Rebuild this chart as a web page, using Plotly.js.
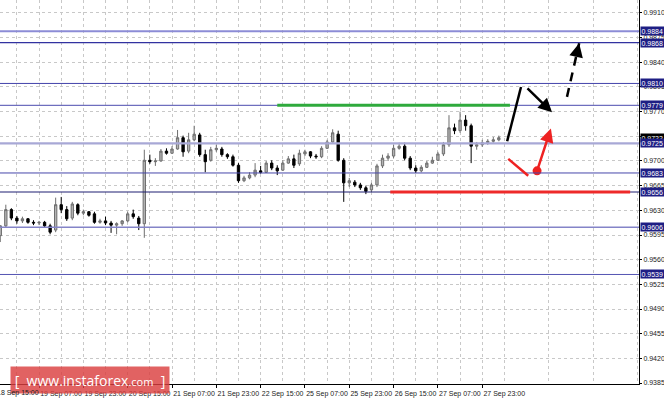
<!DOCTYPE html>
<html>
<head>
<meta charset="utf-8">
<script src="https://cdn.plot.ly/plotly-3.0.1.min.js"></script>
<style>
  html, body { margin: 0; padding: 0; background: #fff; }
  #chart { width: 664px; height: 401px; }
</style>
</head>
<body>
<div id="chart"></div>
<script>
// 2-hour candles
var opens  = [0.9594,0.9608,0.9631,0.9619,0.9615,0.9618,0.9613,0.9612,0.9613,0.9608,
              0.9602,0.9638,0.9631,0.9619,0.9638,0.9626,0.9628,0.9625,0.9613,0.9615,
              0.9612,0.9609,0.9611,0.9615,0.9625,0.9619,0.9611,0.9701,0.9699,0.9700,
              0.9714,0.9711,0.9717,0.9733,0.9714,0.9730,0.9737,0.9709,0.9701,0.9716,
              0.9717,0.9709,0.9706,0.9694,0.9672,0.9676,0.9680,0.9686,0.9684,0.9697,
              0.9690,0.9687,0.9697,0.9703,0.9696,0.9710,0.9713,0.9707,0.9706,0.9718,
              0.9727,0.9738,0.9701,0.9669,0.9670,0.9666,0.9662,0.9659,0.9666,0.9693,
              0.9704,0.9707,0.9718,0.9721,0.9704,0.9690,0.9686,0.9691,0.9697,0.9701,
              0.9710,0.9723,0.9747,0.9743,0.9758,0.9750,0.9721,0.9723,0.9726,0.9728,
              0.9730];
var highs  = [0.9609,0.9638,0.9633,0.9622,0.9621,0.9619,0.9616,0.9615,0.9615,0.9611,
              0.9648,0.9649,0.9636,0.9642,0.9640,0.9631,0.9629,0.9628,0.9618,0.9621,
              0.9615,0.9613,0.9616,0.9628,0.9631,0.9622,0.9716,0.9709,0.9704,0.9717,
              0.9718,0.9721,0.9744,0.9736,0.9740,0.9750,0.9740,0.9716,0.9720,0.9723,
              0.9720,0.9711,0.9709,0.9697,0.9679,0.9684,0.9697,0.9693,0.9700,0.9701,
              0.9694,0.9701,0.9707,0.9709,0.9716,0.9716,0.9714,0.9710,0.9721,0.9730,
              0.9745,0.9743,0.9704,0.9676,0.9673,0.9669,0.9665,0.9669,0.9696,0.9709,
              0.9711,0.9723,0.9726,0.9726,0.9707,0.9694,0.9694,0.9700,0.9706,0.9713,
              0.9727,0.9765,0.9753,0.9770,0.9765,0.9753,0.9727,0.9730,0.9731,0.9734,
              0.9736];
var lows   = [0.9585,0.9605,0.9616,0.9611,0.9612,0.9611,0.9609,0.9609,0.9605,0.9596,
              0.9599,0.9626,0.9615,0.9616,0.9623,0.9623,0.9621,0.9611,0.9611,0.9609,
              0.9598,0.9596,0.9608,0.9613,0.9618,0.9602,0.9591,0.9696,0.9693,0.9699,
              0.9709,0.9710,0.9716,0.9706,0.9711,0.9728,0.9706,0.9684,0.9699,0.9713,
              0.9706,0.9703,0.9692,0.9669,0.9670,0.9674,0.9677,0.9682,0.9683,0.9687,
              0.9680,0.9686,0.9696,0.9690,0.9693,0.9707,0.9704,0.9703,0.9704,0.9717,
              0.9726,0.9699,0.9642,0.9663,0.9663,0.9659,0.9653,0.9656,0.9663,0.9690,
              0.9700,0.9704,0.9716,0.9701,0.9687,0.9683,0.9684,0.9690,0.9696,0.9700,
              0.9707,0.9720,0.9738,0.9740,0.9743,0.9697,0.9716,0.9720,0.9723,0.9726,
              0.9728];
var closes = [0.9608,0.9631,0.9619,0.9615,0.9618,0.9613,0.9612,0.9613,0.9608,0.9599,
              0.9638,0.9631,0.9618,0.9639,0.9626,0.9628,0.9623,0.9613,0.9615,0.9612,
              0.9609,0.9611,0.9615,0.9625,0.9621,0.9611,0.9701,0.9699,0.9700,0.9714,
              0.9711,0.9717,0.9733,0.9713,0.9730,0.9738,0.9709,0.9699,0.9716,0.9718,
              0.9709,0.9706,0.9694,0.9672,0.9676,0.9680,0.9687,0.9684,0.9697,0.9690,
              0.9686,0.9697,0.9703,0.9694,0.9711,0.9713,0.9707,0.9706,0.9718,0.9727,
              0.9740,0.9701,0.9669,0.9672,0.9666,0.9662,0.9657,0.9666,0.9693,0.9704,
              0.9707,0.9718,0.9721,0.9704,0.9690,0.9686,0.9691,0.9697,0.9701,0.9710,
              0.9723,0.9747,0.9743,0.9758,0.9750,0.9721,0.9723,0.9726,0.9728,0.9730,
              0.9733];

var timeLabels = ["19 Sep 07:00", "19 Sep 23:00", "20 Sep 15:00", "21 Sep 07:00",
                  "21 Sep 23:00", "22 Sep 15:00", "25 Sep 07:00", "25 Sep 23:00",
                  "26 Sep 15:00", "27 Sep 07:00", "27 Sep 23:00"];
var timeTicks  = [7, 15, 23, 31, 39, 47, 55, 63, 71, 79, 87];
var firstLabel = "18 Sep 15:00";

var priceTicks = [0.9385, 0.9420, 0.9455, 0.9490, 0.9525, 0.9560, 0.9595, 0.9630,
                  0.9665, 0.9700, 0.9735, 0.9770, 0.9805, 0.9840, 0.9875, 0.9910];

var levels      = [0.9884, 0.9868, 0.9810, 0.9779, 0.9725, 0.9683, 0.9656, 0.9606, 0.9539];
var levelColors = ['#8c8cd6', '#3232a0', '#4242aa', '#4a4aae', '#a8a8d6', '#4646aa', '#1e1e72', '#8484c8', '#5454b2'];
var levelWidths = [2, 1.3, 1, 1, 2.2, 1, 1.2, 1.6, 1];

var lastPrice = 0.9733;

// drawn forecast marks: [x0, y0, x1, y1] in candle index / price
var resistance = [50, 0.9779, 92, 0.9779];
var support    = [70.4, 0.9656, 113.7, 0.9656];
var upLeg      = [91.5, 0.9728, 94.0, 0.9805];
var downArrow  = [94.9, 0.9805, 99.6, 0.9769];
var upDashed   = [102.3, 0.9791, 104.5, 0.9867];
var redLeg     = [91.7, 0.9703, 95.3, 0.9679];
var redArrow   = [96.9, 0.9686, 99.4, 0.9746];

var idx = opens.map(function (v, i) { return i; });

var data = [
    {
        type: 'candlestick',
        x: idx,
        open: opens,
        high: highs,
        low: lows,
        close: closes,
        increasing: { line: { color: '#6e6e6e', width: 1 }, fillcolor: '#b4b4b4' },
        decreasing: { line: { color: '#000000', width: 1 }, fillcolor: '#000000' },
        whiskerwidth: 0,
        hoverinfo: 'skip',
        showlegend: false
    },
    {
        // red dot of the alternative scenario
        type: 'scatter',
        mode: 'markers',
        x: [redArrow[0]],
        y: [redArrow[1]],
        marker: { color: '#ee2222', size: 9 },
        cliponaxis: false,
        hoverinfo: 'skip',
        showlegend: false
    }
];

var shapes = [];
levels.forEach(function (lv, i) {
    shapes.push({
        type: 'line', xref: 'paper', yref: 'y',
        x0: 0, x1: 1, y0: lv, y1: lv,
        line: { color: levelColors[i], width: levelWidths[i] }
    });
});

function seg(s, color, width, dash) {
    return {
        type: 'line', xref: 'x', yref: 'y',
        x0: s[0], y0: s[1], x1: s[2], y1: s[3],
        line: { color: color, width: width, dash: dash || 'solid' }
    };
}
shapes.push(seg(resistance, '#2eaa3c', 3));
shapes.push(seg(support, '#ee2a2a', 3));
shapes.push(seg(upLeg, '#000', 2.5));
shapes.push(seg(redLeg, '#ee2222', 2.5));
shapes.push(seg(upDashed, '#000', 2.5, '9px,7px'));

function arrow(s, color) {
    return {
        xref: 'x', yref: 'y', axref: 'x', ayref: 'y',
        x: s[2], y: s[3], ax: s[0], ay: s[1],
        text: '', showarrow: true,
        arrowhead: 2, arrowsize: 1.1, arrowwidth: 2.5, arrowcolor: color
    };
}

var annotations = [];
annotations.push(arrow(downArrow, '#000'));
annotations.push(arrow(redArrow, '#ee2222'));
// head of the dashed arrow
annotations.push(arrow([upDashed[2] - (upDashed[2] - upDashed[0]) * 0.25,
                        upDashed[3] - (upDashed[3] - upDashed[1]) * 0.25,
                        upDashed[2], upDashed[3]], '#000'));

// current price tag, then the level tags on top of it
annotations.push({
    xref: 'paper', yref: 'y', x: 1, y: lastPrice, xanchor: 'left', xshift: 1,
    text: lastPrice.toFixed(4), showarrow: false,
    font: { family: 'Liberation Sans', size: 7, color: '#fff' },
    bgcolor: '#000', borderpad: 0.5
});
levels.forEach(function (lv) {
    annotations.push({
        xref: 'paper', yref: 'y', x: 1, y: lv, xanchor: 'left', xshift: 1,
        text: lv.toFixed(4), showarrow: false,
        font: { family: 'Liberation Sans', size: 7, color: '#fff' },
        bgcolor: '#1e1e84', borderpad: 0.5
    });
});

// watermark
annotations.push({
    xref: 'paper', yref: 'paper', x: 0.1408, y: 0.0104,
    xanchor: 'center', yanchor: 'middle',
    width: 156, height: 24,
    text: "[&nbsp; www.instaforex<span style='font-size:11px'>.com</span> &nbsp;]",
    showarrow: false,
    font: { family: 'Open Sans', size: 14, color: '#fff' },
    bgcolor: 'rgba(218,64,64,0.82)'
});

// first time label, its tick sits just left of the plot so the text is cut by the edge
annotations.push({
    xref: 'paper', yref: 'paper', x: -0.0083, y: 0, xanchor: 'left', yanchor: 'top', yshift: -3,
    text: firstLabel, showarrow: false,
    font: { family: 'Liberation Sans', size: 7, color: '#222' }
});

var layout = {
    width: 664,
    height: 401,
    paper_bgcolor: '#fff',
    plot_bgcolor: '#fff',
    font: { family: 'Liberation Sans', size: 7, color: '#222' },
    showlegend: false,
    boxgap: 0.4,
    margin: { l: 0, r: 25, t: 0, b: 17 },
    xaxis: {
        range: [-0.05, 115.3],
        rangeslider: { visible: false },
        tickmode: 'array',
        tickvals: timeTicks,
        ticktext: timeLabels,
        ticks: 'outside',
        ticklen: 3,
        tickcolor: '#000',
        ticklabelshift: 22,
        showline: true,
        linecolor: '#000',
        linewidth: 1,
        showgrid: true,
        gridcolor: '#c8c8c8',
        griddash: 'dot',
        minor: { tickmode: 'linear', tick0: 3, dtick: 8, showgrid: true, gridcolor: '#c8c8c8', griddash: 'dot', ticks: '' },
        zeroline: false,
        fixedrange: true
    },
    yaxis: {
        side: 'right',
        range: [0.93836, 0.99284],
        tickmode: 'array',
        tickvals: priceTicks,
        ticktext: priceTicks.map(function (v) { return v.toFixed(4); }),
        ticks: 'outside',
        ticklen: 2,
        tickcolor: '#000',
        showline: true,
        linecolor: '#000',
        linewidth: 1,
        showgrid: true,
        gridcolor: '#c8c8c8',
        griddash: 'dot',
        zeroline: false,
        fixedrange: true
    },
    shapes: shapes,
    annotations: annotations
};

Plotly.newPlot('chart', data, layout, { displayModeBar: false, staticPlot: true });
</script>
</body>
</html>
